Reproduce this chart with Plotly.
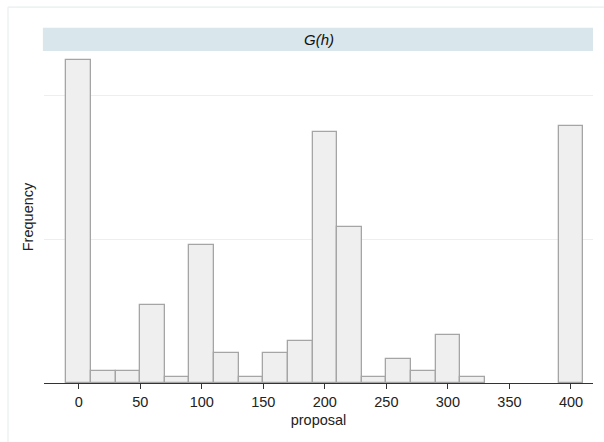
import plotly.graph_objects as go

# Histogram of proposals: bin centres (width 20) and frequencies; empty bins omitted
bin_centers = [0, 20, 40, 60, 80, 100, 120, 140, 160, 180, 200, 220, 240,
               260, 280, 300, 320, 400]
frequencies = [54, 2, 2, 13, 1, 23, 5, 1, 5, 7, 42, 26, 1,
               4, 2, 8, 1, 43]
bin_width = 20
x_ticks = [0, 50, 100, 150, 200, 250, 300, 350, 400]
panel_title = "<i>G(h)</i>"

FONT = "Liberation Sans, Arial, sans-serif"

fig = go.Figure()
fig.add_trace(go.Bar(
    x=bin_centers,
    y=frequencies,
    width=[bin_width] * len(bin_centers),
    marker=dict(color="#efefef", line=dict(color="#a5a5a5", width=1.3)),
    hoverinfo="x+y",
))

fig.update_layout(
    width=604, height=442,
    margin=dict(l=44, r=11, t=51, b=58.5),
    paper_bgcolor="white",
    plot_bgcolor="white",
    showlegend=False,
    font=dict(family=FONT, size=14.5, color="#222222"),
    bargap=0,
)

fig.update_xaxes(
    range=[-28.2, 417.9],
    tickmode="array", tickvals=x_ticks,
    ticks="outside", ticklen=5, tickcolor="#333333", tickwidth=1,
    showline=True, linecolor="#333333", linewidth=1.2,
    showgrid=False, zeroline=False,
    title=dict(text="proposal", standoff=6, font=dict(size=14.5)),
    automargin=False,
)

fig.update_yaxes(
    range=[0, 55.45],
    dtick=24, tick0=0,
    showticklabels=False, ticks="",
    showline=False, zeroline=False,
    showgrid=True, gridcolor="#e9f0f1", gridwidth=1,
    title=dict(text="Frequency", standoff=5, font=dict(size=14.5)),
    automargin=False,
)

# Panel strip with its title
fig.add_shape(type="rect", xref="paper", yref="paper",
              x0=-0.002, x1=1.0, y0=1.0, y1=1.0703,
              fillcolor="#d9e6eb", line=dict(width=0), layer="below")
fig.add_annotation(text=panel_title, xref="paper", yref="paper",
                   x=0.5, y=1.035, showarrow=False,
                   font=dict(size=15, color="#111111"),
                   xanchor="center", yanchor="middle")

# Faint outer frame of the graph region
fig.add_shape(type="line", xref="paper", yref="paper",
              x0=-36 / 549, x1=1.05, y0=1 + 44 / 333, y1=1 + 44 / 333,
              line=dict(color="#e8eeee", width=1.2))
fig.add_shape(type="line", xref="paper", yref="paper",
              x0=-36 / 549, x1=-36 / 549, y0=-0.3, y1=1 + 44 / 333,
              line=dict(color="#e8eeee", width=1.2))

fig.write_html("out.html")
